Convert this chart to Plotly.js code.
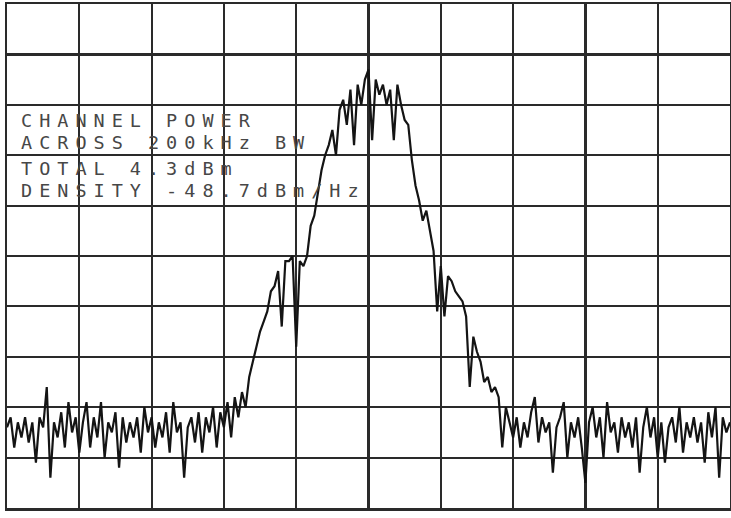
<!DOCTYPE html>
<html>
<head>
<meta charset="utf-8">
<script src="https://cdn.plot.ly/plotly-3.0.1.min.js"></script>
<style>
html,body{margin:0;padding:0;background:#fff;}
#chart{width:731px;height:518px;}
.annotation-text{letter-spacing:7px;}
</style>
</head>
<body>
<div id="chart"></div>
<script>
// Frequency offset from centre (kHz), 100 kHz/div
var freqKHz = [
-500,-495,-490,-485,-480,-475,-470,-465,-460,-455,-450,-445,-440,-435,-430,-425,-420,-415,-410,-405,
-400,-395,-390,-385,-380,-375,-370,-365,-360,-355,-350,-345,-340,-335,-330,-325,-320,-315,-310,-305,
-300,-295,-290,-285,-280,-275,-270,-265,-260,-255,-250,-245,-240,-235,-230,-225,-220,-215,-210,-205,
-200,-195,-190,-185,-180,-175,-170,-165,-160,-155,-150,-145,-140,-135,-130,-125,-120,-115,-110,-105,
-100,-95,-90,-85,-80,-75,-70,-65,-60,-55,-50,-45,-40,-35,-30,-25,-20,-15,-10,-5,
0,5,10,15,20,25,30,35,40,45,50,55,60,65,70,75,80,85,90,95,
100,105,110,115,120,125,130,135,140,145,150,155,160,165,170,175,180,185,190,195,
200,205,210,215,220,225,230,235,240,245,250,255,260,265,270,275,280,285,290,295,
300,305,310,315,320,325,330,335,340,345,350,355,360,365,370,375,380,385,390,395,
400,405,410,415,420,425,430,435,440,445,450,455,460,465,470,475,480,485,490,495,
500
];
var levelDBm = [
-84,-82,-88,-83,-86,-82,-87,-83,-91,-82,-84,-76,-94,-83,-86,-81,-88,-79,-85,-82,
-89,-83,-79,-88,-82,-86,-79,-90,-83,-85,-81,-92,-82,-87,-83,-86,-82,-89,-80,-85,
-82,-88,-83,-86,-81,-89,-79,-85,-83,-94,-84,-82,-87,-81,-89,-82,-85,-80,-88,-81,
-84,-79,-86,-78,-82,-77,-80,-74,-71,-68,-65,-63,-61,-57,-56,-53,-64,-51,-51,-50,
-68,-51,-52,-50,-44,-42,-37,-33,-30,-28,-25,-30,-21,-19,-24,-17,-28,-16,-20,-15,
-13,-27,-15,-18,-16,-20,-17,-27,-16,-20,-23,-24,-31,-36,-39,-43,-41,-45,-49,-61,
-52,-62,-54,-55,-57,-58,-59,-62,-76,-66,-69,-71,-75,-74,-77,-76,-78,-88,-80,-83,
-86,-82,-88,-83,-86,-81,-78,-87,-82,-85,-83,-93,-84,-82,-79,-90,-83,-86,-82,-88,
-95,-83,-80,-86,-82,-90,-79,-85,-83,-89,-82,-86,-83,-88,-82,-93,-84,-80,-86,-82,
-90,-83,-91,-84,-82,-87,-80,-89,-83,-86,-82,-87,-83,-91,-81,-86,-80,-94,-82,-85,
-83
];
var readoutLines = [
"CHANNEL POWER",
"ACROSS 200kHz BW",
"TOTAL 4.3dBm",
"DENSITY -48.7dBm/Hz"
];

var trace = {
  x: freqKHz, y: levelDBm, type: 'scatter', mode: 'lines',
  line: {color: '#141414', width: 2.2}, hoverinfo: 'skip'
};

var layout = {
  width: 731, height: 518,
  margin: {l: 7, r: 1, t: 4, b: 10, pad: 0},
  paper_bgcolor: '#ffffff', plot_bgcolor: '#ffffff',
  showlegend: false,
  xaxis: {range: [-500, 500], dtick: 100, tick0: -500, showgrid: true,
    gridcolor: '#2a2a2a', gridwidth: 2.2, zeroline: false, showticklabels: false,
    ticks: '', showline: true, linecolor: '#2a2a2a', linewidth: 2.5, mirror: true, fixedrange: true},
  yaxis: {range: [-100, 0], dtick: 10, tick0: -100, showgrid: true,
    gridcolor: '#2a2a2a', gridwidth: 2.2, zeroline: false, showticklabels: false,
    ticks: '', showline: true, linecolor: '#2a2a2a', linewidth: 2.5, mirror: true, fixedrange: true},
  annotations: [{
    text: readoutLines.join('<br>'), x: -483, y: -20.6, xref: 'x', yref: 'y',
    xanchor: 'left', yanchor: 'top', align: 'left', showarrow: false,
    font: {family: 'DejaVu Sans Mono, monospace', size: 18.5, color: '#474747'}
  }]
};

Plotly.newPlot('chart', [trace], layout, {displayModeBar: false, staticPlot: true}).then(function(){
  // tighter line pitch (offsets from first baseline), as on the analyser's screen readout
  var offset = [0, 22, 48, 70];
  var lines = document.querySelectorAll('.annotation-text tspan.line');
  lines.forEach(function(t, i){ if (i < offset.length) t.setAttribute('dy', offset[i]); });
});
</script>
</body>
</html>
